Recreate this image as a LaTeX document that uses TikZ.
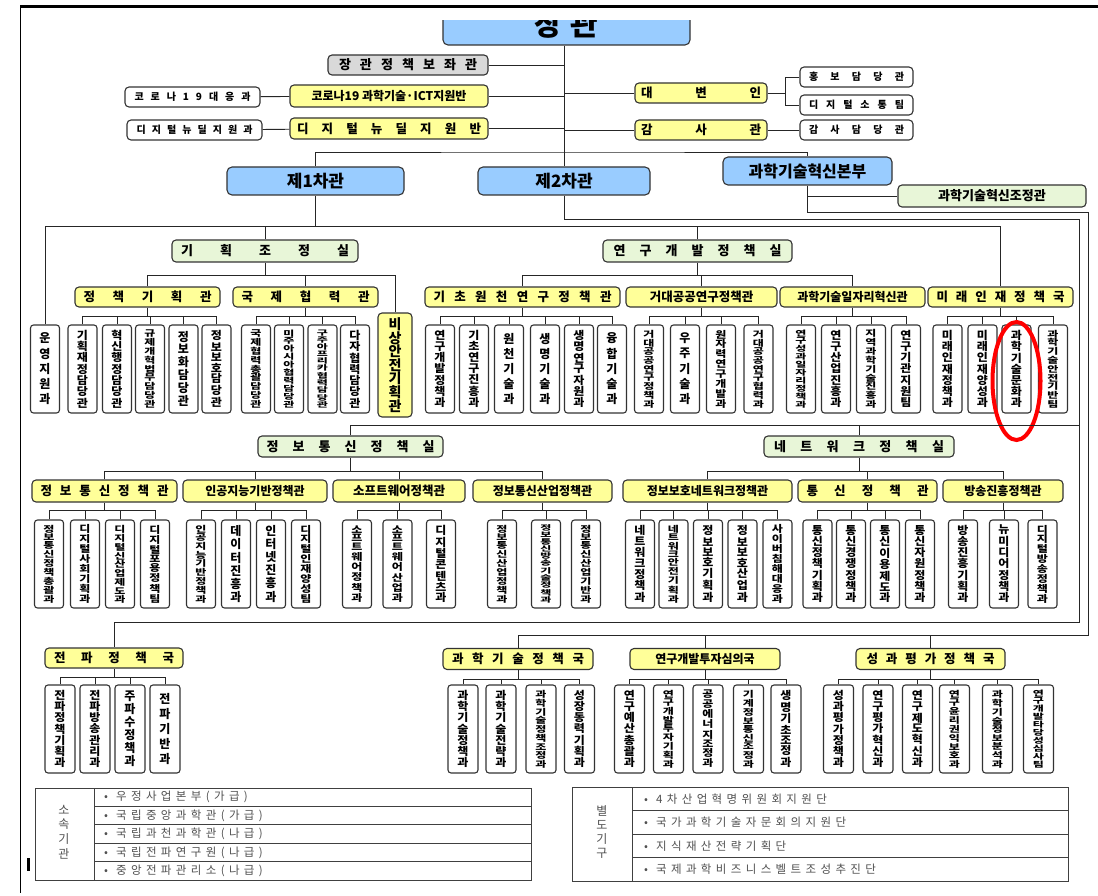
\documentclass[tikz,border=0pt]{standalone}
\usepackage{fontspec}
\setmainfont{Noto Sans CJK KR}
\usepackage{graphicx}
\usetikzlibrary{positioning,calc}
\definecolor{chiefblue}{RGB}{153,204,255}
\definecolor{unityellow}{RGB}{255,255,153}
\definecolor{officegreen}{RGB}{232,246,216}
\definecolor{aidegrey}{RGB}{217,217,217}
\definecolor{inkgrey}{RGB}{80,80,80}

% stacked (vertical) label and spread (horizontal) label
\ExplSyntaxOn
\tl_new:N \l__org_text_tl
\tl_new:N \l__org_scale_tl
\int_new:N \l__org_n_int
\NewDocumentCommand \vtext { O{80} m }
  {
    \tl_set:Nx \l__org_text_tl {#2}
    \int_set:Nn \l__org_n_int { \tl_count:N \l__org_text_tl }
    \tl_set:Nx \l__org_scale_tl
      { \fp_eval:n { min(1, (#1) / (\l__org_n_int * 12.5)) } }
    \scalebox { 1 } [ \l__org_scale_tl ]
      {
        \vbox_to_ht:nn { \fp_eval:n { max(#1, \l__org_n_int * 12.5) } pt }
          {
            \offinterlineskip
            \vss
            \tl_map_inline:Nn \l__org_text_tl
              { \hbox_to_wd:nn { 1.1em } { \hss ##1 \hss } \vss }
          }
      }
  }
\NewDocumentCommand \hspread { m m }
  {
    \tl_set:Nx \l__org_text_tl {#2}
    \hbox_to_wd:nn {#1} { \tl_map_inline:Nn \l__org_text_tl { ##1 \hfil } \unskip }
  }
\ExplSyntaxOff

\begin{document}
\begin{tikzpicture}[x=1pt, y=-1pt,
    chief/.style={rectangle, draw=black!80, line width=1.1pt, rounded corners=5pt, fill=chiefblue,
                  minimum height=28pt, inner sep=2pt, font=\bfseries\fontsize{17}{17}\selectfont},
    aide/.style={rectangle, draw=black!80, line width=1.1pt, rounded corners=4pt, fill=aidegrey,
                 minimum height=20pt, inner sep=2pt, font=\bfseries\fontsize{13}{13}\selectfont},
    unit/.style={rectangle, draw=black!80, line width=1.1pt, rounded corners=4pt, fill=unityellow,
                 minimum height=20pt, inner sep=2pt, font=\bfseries\fontsize{12.5}{13}\selectfont},
    office/.style={rectangle, draw=black!80, line width=1.1pt, rounded corners=4pt, fill=officegreen,
                   minimum height=22pt, inner sep=2pt, font=\bfseries\fontsize{13}{13}\selectfont},
    side/.style={rectangle, draw=black!80, line width=1.1pt, rounded corners=4pt, fill=white,
                 minimum height=20pt, inner sep=2pt, font=\bfseries\fontsize{10}{10}\selectfont},
    dept/.style={rectangle, draw=black!80, line width=1.1pt, rounded corners=3pt, fill=white,
                 minimum width=29pt, minimum height=88pt, inner sep=0pt,
                 font=\bfseries\fontsize{12}{12}\selectfont},
    tabtext/.style={inner sep=0pt, text=inkgrey, font=\fontsize{11.5}{12}\selectfont\addfontfeature{LetterSpace=38}},
    tabrule/.style={draw=black!75, line width=1pt},
    link/.style={draw=black!85, line width=0.9pt}
]
\useasboundingbox (0,0) rectangle (1098,896);
\fill[white] (0,0) rectangle (1098,896);
% frame
\draw[line width=3pt] (20,7) -- (1098,7);
\draw[line width=1pt] (20,7) -- (20,893);

% minister (top cut off)
\begin{scope}
  \clip (430,21) rectangle (700,50);
  \node[chief, minimum width=247pt, minimum height=42pt,
        font=\bfseries\fontsize{30}{30}\selectfont] (minister) at (566.5,24) {장\hspace{8pt}관};
\end{scope}

% staff offices
\node[aide, minimum width=160pt] (aide) at (408,65) {\hspread{138pt}{장관정책보좌관}};
\node[unit, minimum width=198pt, minimum height=22pt, font=\bfseries\fontsize{12}{12}\selectfont]
     (covid) at (389,96) {코로나19 과학기술·ICT지원반};
\node[side, minimum width=135pt] (covidteam) at (192.5,97) {\hspread{116pt}{코로나19대응과}};
\node[unit, minimum width=198pt, minimum height=21pt] (newdeal) at (389,128.5) {\hspread{184pt}{디지털뉴딜지원반}};
\node[side, minimum width=135pt] (newdealteam) at (194.5,130) {\hspread{116pt}{디지털뉴딜지원과}};
\node[unit, minimum width=132pt] (spokes) at (701,93) {\hspread{120pt}{대변인}};
\node[side, minimum width=113pt] (pr) at (856.5,77) {\hspread{95pt}{홍보담당관}};
\node[side, minimum width=113pt] (digcomm) at (856.5,105) {\hspread{95pt}{디지털소통팀}};
\node[unit, minimum width=132pt] (audit) at (701,130) {\hspread{120pt}{감사관}};
\node[side, minimum width=113pt] (auditor) at (856.5,130) {\hspread{95pt}{감사담당관}};

% vice ministers
\node[chief, minimum width=177pt] (vice1) at (315.5,181) {제1차관};
\node[chief, minimum width=172pt] (vice2) at (564,181) {제2차관};
\node[chief, minimum width=169pt, font=\bfseries\fontsize{16}{16}\selectfont] (hq) at (807.5,171) {과학기술혁신본부};
\node[office, minimum width=188pt, font=\bfseries\fontsize{13}{13}\selectfont] (coord) at (992,196) {과학기술혁신조정관};

\draw[link] (minister.south -| vice2.north) -- (vice2.north);
\foreach \nm in {aide,covid,newdeal,spokes,audit}
  \draw[link] (\nm) -- (\nm -| vice2.north);
\draw[link] (covidteam) -- (covid);
\draw[link] (newdealteam) -- (newdeal);
\draw[link] (audit) -- (auditor);
\draw[link] (spokes.east) -- ++(18,0) coordinate (spk);
\draw[link] (pr.west) -| (spk) |- (digcomm.west);
\coordinate (vbus) at (564,152);
\draw[link] (vice1.north) |- (vbus) -| (hq.north);
\draw[link] (hq.south) |- (coord.west);

% 1st vice minister side
\node[office, minimum width=186pt] (planning) at (265,251) {\hspread{168pt}{기획조정실}};
\node[office, minimum width=189pt] (rnd) at (697.5,251) {\hspread{168pt}{연구개발정책실}};
\node[unit, minimum width=145pt] (policyplan) at (147.5,297) {\hspread{128pt}{정책기획관}};
\node[unit, minimum width=145pt] (intl) at (305.5,297) {\hspread{128pt}{국제협력관}};
\node[unit, minimum width=195pt] (basic) at (522.5,297) {\hspread{178pt}{기초원천연구정책관}};
\node[unit, minimum width=151pt] (bigsci) at (701.5,297) {거대공공연구정책관};
\node[unit, minimum width=145pt, font=\bfseries\fontsize{12}{12}\selectfont] (jobs) at (852.5,297) {과학기술일자리혁신관};
\node[unit, minimum width=145pt] (talent) at (1000.5,297) {\hspread{128pt}{미래인재정책국}};
\node[dept] (support) at (45,369) {\vtext{운영지원과}};
\node[unit, minimum width=34pt, minimum height=104pt, inner sep=0pt,
      font=\bfseries\fontsize{14}{14}\selectfont] (emergency) at (395,365) {\vtext[96]{비상안전기획관}};

\coordinate (v1bus) at (315.5,226);
\draw[link] (vice1.south) -- (v1bus);
\foreach \nm in {support,planning,rnd,talent}
  \draw[link] (\nm.north) |- (v1bus);
\draw[link] (planning.south) -- ++(0,13) coordinate (plbus);
\foreach \nm in {policyplan,intl,emergency}
  \draw[link] (\nm.north) |- (plbus);
\draw[link] (rnd.south) -- ++(0,13) coordinate (rdbus);
\foreach \nm in {basic,bigsci,jobs}
  \draw[link] (\nm.north) |- (rdbus);

\foreach \pnode/\kids in {policyplan/{82.5/pp1/기획재정담당관, 117/pp2/혁신행정담당관, 150/pp3/규제개혁법무담당관, 183.5/pp4/정보화담당관, 216.5/pp5/정보보호담당관},
                        intl/{256/ic1/국제협력총괄담당관, 289/ic2/미주아시아협력담당관, 322.5/ic3/구주아프리카협력담당관, 355/ic4/다자협력담당관},
                        basic/{440/bs1/연구개발정책과, 474/bs2/기초연구진흥과, 509/bs3/원천기술과, 545/bs4/생명기술과, 579/bs5/생명연구자원과, 612/bs6/융합기술과},
                        bigsci/{649/bg1/거대공공연구정책과, 685/bg2/우주기술과, 721/bg3/원자력연구개발과, 758.5/bg4/거대공공연구협력과},
                        jobs/{801/jb1/연구성과일자리정책과, 836/jb2/연구산업진흥과, 871/jb3/지역과학기술진흥과, 906/jb4/연구기관지원팀},
                        talent/{947.5/tl1/미래인재정책과, 982.5/tl2/미래인재양성과, 1016.5/tl3/과학기술문화과, 1053/tl4/과학기술안전기반팀}} {
  \draw[link] (\pnode.south) -- ++(0,9) coordinate (kbus);
  \foreach \x/\nm/\lbl in \kids {
    \node[dept] (\nm) at (\x,369) {\vtext{\lbl}};
    \draw[link] (\nm.north) |- (kbus);
  }
}
\draw[red, line width=4pt] ($(tl3)+(0,12)$) ellipse [x radius=24pt, y radius=59pt];

% 2nd vice minister side
\node[office, minimum width=185pt, minimum height=21pt] (ictoff) at (350.5,446.5) {\hspread{168pt}{정보통신정책실}};
\node[office, minimum width=190pt, minimum height=21pt] (netoff) at (859,446.5) {\hspread{170pt}{네트워크정책실}};
\node[unit, minimum width=145pt, minimum height=22pt] (ictpol) at (104.5,491) {\hspread{128pt}{정보통신정책관}};
\node[unit, minimum width=144pt, minimum height=22pt, font=\bfseries\fontsize{12}{12}\selectfont] (aipol) at (255,491) {인공지능기반정책관};
\node[unit, minimum width=132pt, minimum height=22pt] (swpol) at (399,491) {소프트웨어정책관};
\node[unit, minimum width=139pt, minimum height=22pt, font=\bfseries\fontsize{12}{12}\selectfont] (indpol) at (542.5,491) {정보통신산업정책관};
\node[unit, minimum width=169pt, minimum height=22pt, font=\bfseries\fontsize{12}{12}\selectfont] (secpol) at (707.5,491) {정보보호네트워크정책관};
\node[unit, minimum width=139pt, minimum height=22pt] (telpol) at (867.5,491) {\hspread{122pt}{통신정책관}};
\node[unit, minimum width=120pt, minimum height=22pt, font=\bfseries\fontsize{12}{12}\selectfont] (brdpol) at (1003,491) {방송진흥정책관};
\node[unit, minimum width=138pt] (radio) at (114,658) {\hspread{120pt}{전파정책국}};

\coordinate (v2r) at (1079,219);
\coordinate (v2mid) at (1079,425);
\coordinate (v2low) at (1079,622);
\draw[link] (vice2.south) |- (v2r) -- (v2low) -| (radio.north);
\draw[link] (ictoff.north) |- (v2mid);
\draw[link] (netoff.north) |- (v2mid);
\draw[link] (ictoff.south) -- ++(0,13.5) coordinate (icbus);
\foreach \nm in {ictpol,aipol,swpol,indpol}
  \draw[link] (\nm.north) |- (icbus);
\draw[link] (netoff.south) -- ++(0,13.5) coordinate (ntbus);
\foreach \nm in {secpol,telpol,brdpol}
  \draw[link] (\nm.north) |- (ntbus);

\foreach \pnode/\kids in {ictpol/{49/ip1/정보통신정책총괄과, 85/ip2/디지털사회기획과, 120/ip3/디지털신산업제도과, 155/ip4/디지털포용정책팀},
                        aipol/{201/ai1/인공지능기반정책과, 236/ai2/데이터진흥과, 271/ai3/인터넷진흥과, 306/ai4/디지털인재양성팀},
                        swpol/{357/sw1/소프트웨어정책과, 397.5/sw2/소프트웨어산업과, 441/sw3/디지털콘텐츠과},
                        indpol/{502/id1/정보통신산업정책과, 546/id2/정보통신방송기술정책과, 586/id3/정보통신산업기반과},
                        secpol/{640/ns1/네트워크정책과, 673.5/ns2/네트워크안전기획과, 708/ns3/정보보호기획과, 742.5/ns4/정보보호산업과, 777.5/ns5/사이버침해대응과},
                        telpol/{817.5/tc1/통신정책기획과, 851/tc2/통신경쟁정책과, 885/tc3/통신이용제도과, 920/tc4/통신자원정책과},
                        brdpol/{963/bc1/방송진흥기획과, 1004/bc2/뉴미디어정책과, 1042.5/bc3/디지털방송정책과}} {
  \draw[link] (\pnode.south) -- ++(0,8) coordinate (kbus);
  \foreach \x/\nm/\lbl in \kids {
    \node[dept] (\nm) at (\x,564) {\vtext{\lbl}};
    \draw[link] (\nm.north) |- (kbus);
  }
}

% innovation headquarters side
\node[unit, minimum width=150pt, minimum height=21pt] (scipol) at (518,659) {\hspread{132pt}{과학기술정책국}};
\node[unit, minimum width=150pt, minimum height=21pt, font=\bfseries\fontsize{12}{12}\selectfont] (rdinv) at (705,659) {연구개발투자심의국};
\node[unit, minimum width=149pt, minimum height=21pt] (evalpol) at (930.5,659) {\hspread{128pt}{성과평가정책국}};

\coordinate (hqr) at (1088,212);
\coordinate (hqlow) at (1088,635);
\draw[link] (hq.south) |- (hqr) -- (hqlow) -| (scipol.north);
\draw[link] (rdinv.north) |- (hqlow);
\draw[link] (evalpol.north) |- (hqlow);

\foreach \pnode/\kids in {radio/{60/rp1/전파정책기획과, 95/rp2/전파방송관리과, 130/rp3/주파수정책과, 165/rp4/전파기반과},
                        scipol/{463/sp1/과학기술정책과, 501/sp2/과학기술전략과, 541/sp3/과학기술정책조정과, 579.5/sp4/성장동력기획과},
                        rdinv/{629.5/ri1/연구예산총괄과, 668.5/ri2/연구개발투자기획과, 708/ri3/공공에너지조정과, 748.5/ri4/기계정보통신조정과, 786/ri5/생명기초조정과},
                        evalpol/{838.5/ev1/성과평가정책과, 878/ev2/연구평가혁신과, 917.5/ev3/연구제도혁신과, 954.5/ev4/연구윤리권익보호과, 997.5/ev5/과학기술정보분석과, 1038.5/ev6/연구개발타당성심사팀}} {
  \draw[link] (\pnode.south) -- ++(0,9) coordinate (kbus);
  \foreach \x/\nm/\lbl in \kids {
    \node[dept, minimum width=30pt] (\nm) at (\x,729) {\vtext{\lbl}};
    \draw[link] (\nm.north) |- (kbus);
  }
}

% affiliated agencies
\draw[tabrule] (35,788) rectangle (531,880);
\draw[tabrule] (94,788) -- (94,880);
\foreach \y in {806.4,824.8,843.2,861.6}
  \draw[tabrule] (94,\y) -- (531,\y);
\node[tabtext, font=\fontsize{12}{12}\selectfont] (agency) at (64,832) {\vtext[62]{소속기관}};
\foreach \y/\lbl in {797.2/우정사업본부(가급), 815.6/국립중앙과학관(가급), 834/국립과천과학관(나급),
                     852.4/국립전파연구원(나급), 870.8/중앙전파관리소(나급)}
  \node[tabtext, anchor=west] at (104,\y) {•\hspace{8pt}\lbl};
\fill (27,858) rectangle (30,871);

% separate bodies
\draw[tabrule] (572,787) rectangle (1068,881);
\draw[tabrule] (632,787) -- (632,881);
\foreach \y in {810.5,834,857.5}
  \draw[tabrule] (632,\y) -- (1068,\y);
\node[tabtext, font=\fontsize{12}{12}\selectfont] (bodies) at (602,832) {\vtext[62]{별도기구}};
\foreach \y/\lbl in {798.75/4차산업혁명위원회지원단, 822.25/국가과학기술자문회의지원단,
                     845.75/지식재산전략기획단, 869.25/국제과학비즈니스벨트조성추진단}
  \node[tabtext, anchor=west] at (644,\y) {•\hspace{8pt}\lbl};
\end{tikzpicture}
\end{document}
